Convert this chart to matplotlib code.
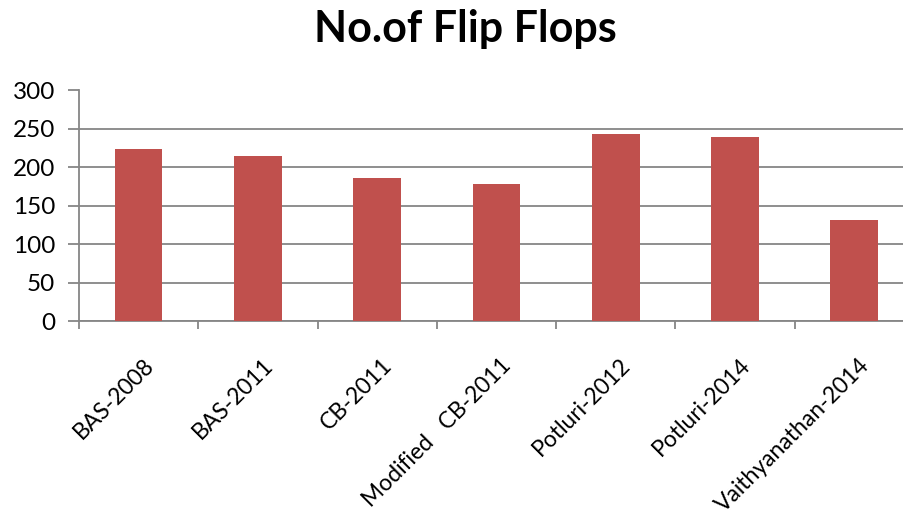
import numpy as np
import matplotlib
matplotlib.use("Agg")
from matplotlib import pyplot as plt
from matplotlib.transforms import ScaledTranslation

# flip-flop counts per design
designs = ["BAS-2008", "BAS-2011", "CB-2011", "Modified   CB-2011",
           "Potluri-2012", "Potluri-2014", "Vaithyanathan-2014"]
flip_flops = [224, 215, 186, 178, 243, 240, 131]
y_ticks = [0, 50, 100, 150, 200, 250, 300]

plt.rcParams['font.family'] = ['Lato', 'DejaVu Sans']

fig = plt.figure(figsize=(9.04, 5.14), dpi=100)
ax = fig.add_axes([79 / 904., 193 / 514., 835 / 904., 230.5 / 514.])

x = np.arange(len(designs))
ax.bar(x, flip_flops, width=0.40, color='#C0504D', zorder=3)

ax.set_xlim(-0.5, len(designs) - 0.5)
ax.set_ylim(0, 300)
ax.set_yticks(y_ticks)
ax.yaxis.grid(True, color='#868686', linewidth=1.3, zorder=0)

# tick marks sit between categories, labels under the bar centres
ax.set_xticks(np.arange(len(designs) + 1) - 0.5)
ax.set_xticklabels([])
ax.set_xticks(x, minor=True)
ax.set_xticklabels(designs, minor=True, rotation=45, ha='right', va='top',
                   rotation_mode='anchor', fontsize=16.5)
ax.tick_params(axis='x', which='minor', length=0, pad=24)
ax.tick_params(axis='x', which='major', length=6, width=1.3, color='#868686')
ax.tick_params(axis='y', length=8, width=1.3, color='#868686', labelsize=17.5, pad=9)

# nudge the rotated labels a little to the right
shift = ScaledTranslation(3 / 72., 0, fig.dpi_scale_trans)
for lbl in ax.get_xticklabels(minor=True):
    lbl.set_transform(lbl.get_transform() + shift)

for side in ['top', 'right']:
    ax.spines[side].set_visible(False)
for side in ['left', 'bottom']:
    ax.spines[side].set_color('#868686')
    ax.spines[side].set_linewidth(1.3)

fig.text(0.515, 0.944, 'No.of Flip Flops', ha='center', va='center',
         fontsize=31, fontweight='bold')

fig.savefig('out.png', dpi=100)
